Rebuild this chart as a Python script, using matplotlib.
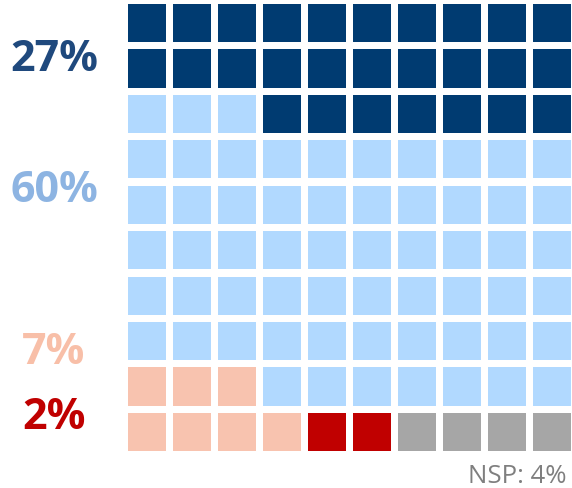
import matplotlib.pyplot as plt
from matplotlib.patches import Rectangle

labels = ["27%", "60%", "7%", "2%"]
shares = [27, 60, 7, 2, 4]
keys = ["D", "L", "S", "R", "G"]
colors = {"D": "#003B71", "L": "#B1D9FF", "S": "#F8C3AF", "R": "#C00000", "G": "#A6A6A6"}
text_colors = ["#1F497D", "#8DB4E2", "#F8BFA8", "#C00000"]
nsp_label = "NSP: 4%"

# 10x10 layout, one letter per cell, top row first
layout = [
    "DDDDDDDDDD",
    "DDDDDDDDDD",
    "LLLDDDDDDD",
    "LLLLLLLLLL",
    "LLLLLLLLLL",
    "LLLLLLLLLL",
    "LLLLLLLLLL",
    "LLLLLLLLLL",
    "SSSLLLLLLL",
    "SSSSRRGGGG",
]
for k, n in zip(keys, shares):
    assert sum(r.count(k) for r in layout) == n

W, H = 572, 489
fig = plt.figure(figsize=(W / 100, H / 100), dpi=100)
ax = fig.add_axes([128 / W, (H - 452) / H, (571 - 128) / W, (452 - 5) / H])
size = 0.84
ax.set_xlim(0, 9 + size)
ax.set_ylim(9 + size, 0)
ax.axis("off")

for r, row in enumerate(layout):
    for c, k in enumerate(row):
        ax.add_patch(Rectangle((c, r), size, size, color=colors[k], lw=0))

# labels on the left, baseline at pixel positions
label_y = [71, 202, 364, 429]
for lab, col, y in zip(labels, text_colors, label_y):
    fig.text(54 / W, 1 - y / H, lab, color=col, fontsize=31, fontweight="bold",
             family="Open Sans", ha="center", va="baseline")

fig.text(567 / W, 1 - 483 / H, nsp_label, color="#7F7F7F", fontsize=18.5,
         family="Open Sans", ha="right", va="baseline")

fig.savefig("out.png", dpi=100)
